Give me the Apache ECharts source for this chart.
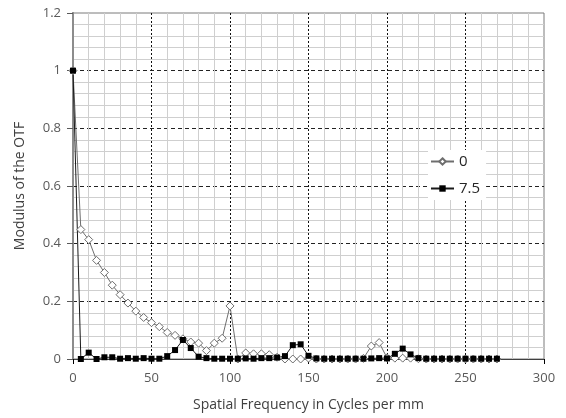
<!DOCTYPE html>
<html>
<head>
<meta charset="utf-8">
<script src="https://cdn.jsdelivr.net/npm/echarts@6/dist/echarts.min.js"></script>
<style>
	html, body { margin: 0; padding: 0; background: #fff; }
	#container { width: 566px; height: 418px; }
</style>
</head>
<body>
<div id="container"></div>
<script>
// spatial frequency (cycles per mm)
var frecuencias = [0, 5, 10, 15, 20, 25, 30, 35, 40, 45, 50, 55, 60, 65, 70, 75, 80, 85, 90, 95,
	100, 105, 110, 115, 120, 125, 130, 135, 140, 145, 150, 155, 160, 165, 170, 175, 180, 185, 190, 195,
	200, 205, 210, 215, 220, 225, 230, 235, 240, 245, 250, 255, 260, 265, 270];

// modulus of the OTF, defocus 0
var otf0 = [1.0, 0.449, 0.414, 0.342, 0.300, 0.256, 0.223, 0.194, 0.166, 0.144, 0.126, 0.112, 0.092, 0.082, 0.070, 0.059, 0.055, 0.029, 0.055, 0.072,
	0.184, 0.0, 0.021, 0.018, 0.018, 0.015, 0.006, 0.0, 0.0, 0.0, 0.003, 0.0, 0.0, 0.0, 0.0, 0.0, 0.0, 0.002, 0.045, 0.057,
	0.004, 0.003, 0.003, 0.003, 0.001, 0.0, 0.0, 0.0, 0.0, 0.0, 0.0, 0.0, 0.0, 0.0, 0.0];

// modulus of the OTF, defocus 7.5
var otf75 = [1.0, 0.0, 0.022, 0.0, 0.006, 0.006, 0.001, 0.003, 0.001, 0.003, 0.001, 0.001, 0.010, 0.031, 0.066, 0.038, 0.008, 0.003, 0.001, 0.001,
	0.001, 0.001, 0.002, 0.001, 0.003, 0.003, 0.005, 0.010, 0.048, 0.051, 0.011, 0.002, 0.001, 0.001, 0.001, 0.001, 0.001, 0.001, 0.002, 0.003,
	0.002, 0.018, 0.036, 0.016, 0.003, 0.001, 0.001, 0.001, 0.001, 0.001, 0.001, 0.001, 0.001, 0.001, 0.001];

var nombres = ['0', '7.5'];

var dom = document.getElementById("container");
var myChart = echarts.init(dom);
var fuente = "'Open Sans', sans-serif";

function pares(valores) {
	var data = [];
	frecuencias.forEach((f, i) => {
		data.push([f, valores[i]]);
	});
	return data;
}

var option = {
	animation: false,
	backgroundColor: '#fff',
	grid: {
		left: 73,
		right: 22,
		top: 13,
		bottom: 59,
		show: true,
		borderColor: '#7a7a7a',
		borderWidth: 1
	},
	legend: {
		orient: 'vertical',
		left: 428,
		top: 150,
		padding: [4, 6, 4, 2],
		itemGap: 12,
		itemWidth: 23,
		itemHeight: 8,
		backgroundColor: '#fff',
		textStyle: { fontFamily: fuente, fontSize: 15, color: '#262626' },
		data: nombres
	},
	xAxis: [
		{
			type: 'value',
			min: 0,
			max: 300,
			interval: 50,
			name: 'Spatial Frequency in Cycles per mm',
			nameLocation: 'middle',
			nameGap: 39,
			nameTextStyle: { fontFamily: fuente, fontSize: 14, color: '#404040' },
			axisLine: { onZero: false, lineStyle: { color: '#000', width: 1 } },
			axisTick: { show: true, length: 5, lineStyle: { color: '#000' } },
			axisLabel: { margin: 13, fontFamily: fuente, fontSize: 13, color: '#595959' },
			splitLine: { show: true, showMaxLine: false, lineStyle: { color: '#111', type: [2, 2], width: 1 } },
			minorTick: { show: false, splitNumber: 5 },
			minorSplitLine: { show: true, lineStyle: { color: '#cfcfcf', width: 1 } }
		},
		{
			// top border of the plot area
			type: 'value',
			position: 'top',
			min: 0,
			max: 300,
			axisLine: { show: true, lineStyle: { color: '#404040', width: 1 } },
			axisTick: { show: false },
			axisLabel: { show: false },
			splitLine: { show: false }
		}
	],
	yAxis: [
		{
			type: 'value',
			min: 0,
			max: 1.2,
			interval: 0.2,
			name: 'Modulus of the OTF',
			nameLocation: 'middle',
			nameGap: 46,
			nameTextStyle: { fontFamily: fuente, fontSize: 14, color: '#404040' },
			axisLine: { show: true, lineStyle: { color: '#8c8c8c', width: 2 } },
			axisTick: { show: true, length: 6, lineStyle: { color: '#595959' } },
			axisLabel: { margin: 12, fontFamily: fuente, fontSize: 13, color: '#595959' },
			splitLine: { show: true, showMaxLine: false, lineStyle: { color: '#222', type: [4, 3], width: 1 } },
			minorTick: { show: false, splitNumber: 5 },
			minorSplitLine: { show: true, lineStyle: { color: '#cfcfcf', width: 1 } }
		},
		{
			// right border of the plot area
			type: 'value',
			position: 'right',
			min: 0,
			max: 1.2,
			axisLine: { show: true, lineStyle: { color: '#8c8c8c', width: 2 } },
			axisTick: { show: false },
			axisLabel: { show: false },
			splitLine: { show: false }
		}
	],
	series: [
		{
			name: nombres[0],
			type: 'line',
			data: pares(otf0),
			symbol: 'diamond',
			symbolSize: 8,
			showAllSymbol: true,
			lineStyle: { color: '#6e6e6e', width: 1 },
			itemStyle: { color: '#fff', borderColor: '#6e6e6e', borderWidth: 1 }
		},
		{
			name: nombres[1],
			type: 'line',
			data: pares(otf75),
			symbol: 'rect',
			symbolSize: 6,
			showAllSymbol: true,
			lineStyle: { color: '#1a1a1a', width: 1 },
			itemStyle: { color: '#000', borderColor: '#000', borderWidth: 0 }
		}
	]
};

if (option && typeof option === "object") {
	myChart.setOption(option, true);
}
</script>
</body>
</html>
